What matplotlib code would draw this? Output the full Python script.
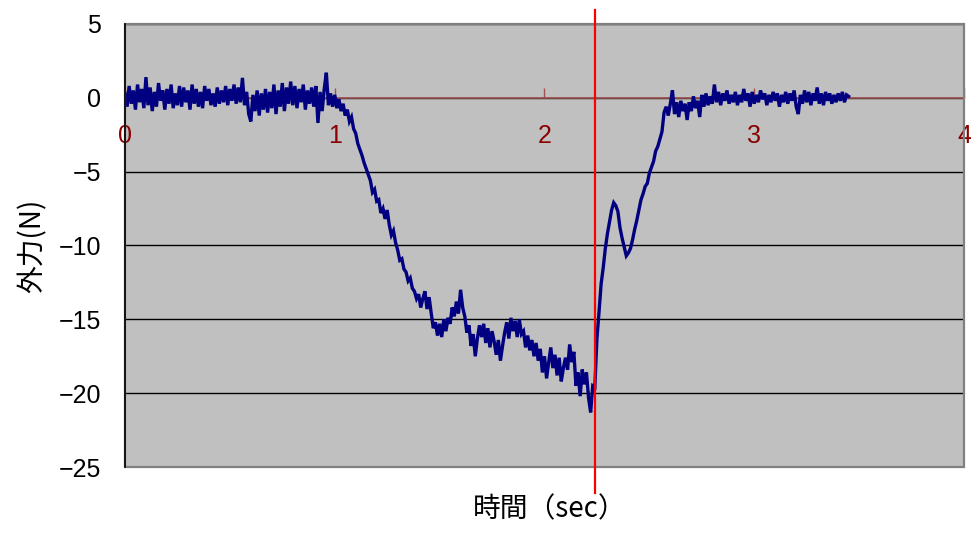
import numpy as np
import matplotlib
matplotlib.use("Agg")
import matplotlib.pyplot as plt
from matplotlib.patches import Rectangle

# force sensor log, sampled every 10 ms
SAMPLE_DT = 0.01
force = [
    0.3, -0.6, 0.8, -0.4, 0.5, -0.8, 0.9, -0.3, 0.6, -0.7,
    1.4, -0.5, 0.7, -0.9, 0.4, -0.6, 1.0, -0.2, 0.5, -0.8,
    0.6, -0.4, 0.9, -0.7, 0.3, -0.5, 0.8, -0.6, 0.7, -0.3,
    0.5, -0.8, 0.9, -0.4, 0.6, -0.6, 0.4, -0.7, 0.8, -0.2,
    0.6, -0.5, 0.3, -0.6, 0.7, -0.4, 0.5, -0.3, 0.8, -0.5,
    0.6, -0.2, 0.9, -0.4, 0.7, -0.3, 1.35, -0.5, 0.4, -1.1,
    -1.6, 0.2, -0.9, 0.5, -1.2, 0.3, -0.8, 0.6, -1.0, 0.4,
    -0.7, 0.9, -1.1, 0.5, -0.6, 1.0, -0.9, 0.7, -0.4, 1.1,
    -0.5, 0.8, -0.7, 0.6, -0.3, 0.9, -0.8, 0.5, -0.4, 0.7,
    -0.6, 0.8, -1.7, 0.4, -0.9, 0.6, 1.7, -0.5, 0.3, -0.6,
    0.2, -0.7, -0.1, -0.9, -0.4, -1.2, -0.8, -1.6, -1.3, -2.1,
    -2.4, -3.1, -3.5, -3.9, -4.4, -4.8, -5.2, -5.6, -6.4, -6.2,
    -7.0, -6.9, -7.8, -7.5, -8.2, -7.6, -8.6, -9.3, -9.0, -9.8,
    -10.3, -11.0, -10.9, -11.6, -11.8, -12.4, -12.2, -12.9, -13.1, -13.6,
    -13.3, -14.2, -13.6, -13.1, -14.3, -13.5, -14.6, -15.6, -15.2, -16.1,
    -15.3, -16.2, -15.0, -15.8, -14.9, -15.3, -14.2, -14.8, -13.8, -14.6,
    -13.0, -14.2, -14.8, -15.9, -15.4, -16.8, -16.0, -17.5, -16.3, -15.4,
    -16.2, -15.3, -16.6, -15.6, -16.9, -15.8, -16.5, -17.4, -16.4, -17.8,
    -16.8, -15.9, -15.2, -16.3, -14.9, -15.8, -15.1, -16.2, -15.0, -16.0,
    -15.8, -16.9, -16.1, -17.1, -16.4, -17.5, -16.6, -17.8, -17.0, -18.6,
    -17.5, -19.0, -17.9, -16.9, -18.3, -17.4, -18.8, -17.6, -19.2, -18.3,
    -17.6, -18.4, -16.7, -17.9, -17.2, -19.5, -18.6, -20.2, -18.4, -19.4,
    -18.6, -20.3, -21.3, -19.5, -19.6, -16.3, -14.5, -12.6, -11.5, -10.2,
    -9.2, -8.4, -7.6, -7.1, -7.3, -7.7, -8.8, -9.5, -10.1, -10.7,
    -10.5, -10.2, -9.6, -8.9, -8.3, -7.6, -6.9, -6.5, -6.0, -5.8,
    -5.1, -4.7, -4.3, -3.6, -3.3, -2.8, -2.3, -1.0, -0.6, -1.2,
    -0.4, 0.5, -1.1, -0.3, -1.3, -0.2, -0.9, -0.4, -1.5, -0.3,
    -0.9, 0.1, -0.7, -0.2, -1.3, 0.2, -0.6, 0.3, -0.5, 0.1,
    -0.4, 0.9, -0.3, 0.4, -0.5, 0.3, -0.2, 0.5, -0.4, 0.2,
    -0.3, 0.4, -0.5, 0.2, -0.3, 0.6, -0.2, 0.3, -0.6, 0.4,
    -0.4, 0.2, -0.3, 0.5, -0.1, 0.3, -0.5, 0.2, -0.3, 0.4,
    -0.2, 0.3, -0.6, 0.2, -0.3, 0.4, -0.4, 0.3, -0.2, 0.5,
    -0.6, -1.1, 0.2, -0.4, 0.5, -0.3, 0.4, -0.5, 0.3, -0.2,
    0.7, -0.4, 0.3, -0.5, 0.4, -0.2, 0.3, -0.4, 0.2, -0.3,
    0.3, -0.2, 0.4, -0.3, 0.2, 0.1,
]
MARKER_T = 2.24
x_ticks = [0, 1, 2, 3, 4]
y_ticks = [5, 0, -5, -10, -15, -20, -25]

t = np.arange(len(force)) * SAMPLE_DT

num_font = "Liberation Sans"
jp_font = ["Noto Sans CJK JP", "DejaVu Sans"]

fig = plt.figure(figsize=(9.71, 5.33), dpi=100)
ax = fig.add_axes([0.1287, 0.1238, 0.8641, 0.8312])
ax.set_facecolor("#C0C0C0")
ax.set_xlim(0, 4)
ax.set_ylim(-25, 5)

ax.plot(t, force, color="#000080", lw=2.4, zorder=3, solid_joinstyle="miter")

# horizontal grid
ax.set_yticks(y_ticks)
ax.yaxis.grid(True, color="black", lw=1.0)
ax.set_axisbelow(True)

# frame
ax.add_patch(Rectangle((0, 0), 1, 1, transform=ax.transAxes, fill=False,
                       edgecolor="#808080", lw=1.6, zorder=4, clip_on=False))
for s in ("top", "right"):
    ax.spines[s].set_visible(False)
ax.spines["left"].set_color("black")
ax.spines["left"].set_linewidth(1.2)
ax.spines["left"].set_zorder(5)

# x axis crosses at zero
ax.spines["bottom"].set_position(("data", 0))
ax.spines["bottom"].set_color("#A05050")
ax.spines["bottom"].set_linewidth(1.2)
ax.set_xticks(x_ticks)
ax.tick_params(axis="x", direction="in", length=7, width=1, color="#A05050",
               labelcolor="#8B0000", labelsize=18, pad=19)
ax.tick_params(axis="y", length=0, labelsize=18, pad=17)
for lab in ax.get_xticklabels() + ax.get_yticklabels():
    lab.set_fontfamily(num_font)

ax.axvline(MARKER_T, ymin=-0.0587, ymax=1.0316, color="#FF0000", lw=1.6,
           clip_on=False, zorder=6)

ax.set_xlabel("時間（sec）", fontsize=20, family=jp_font)
ax.xaxis.set_label_coords(0.506, -0.062)
ax.set_ylabel("外力(N)", fontsize=20, family=jp_font)
ax.yaxis.set_label_coords(-0.092, 0.5)

fig.savefig("out.png", dpi=100)
